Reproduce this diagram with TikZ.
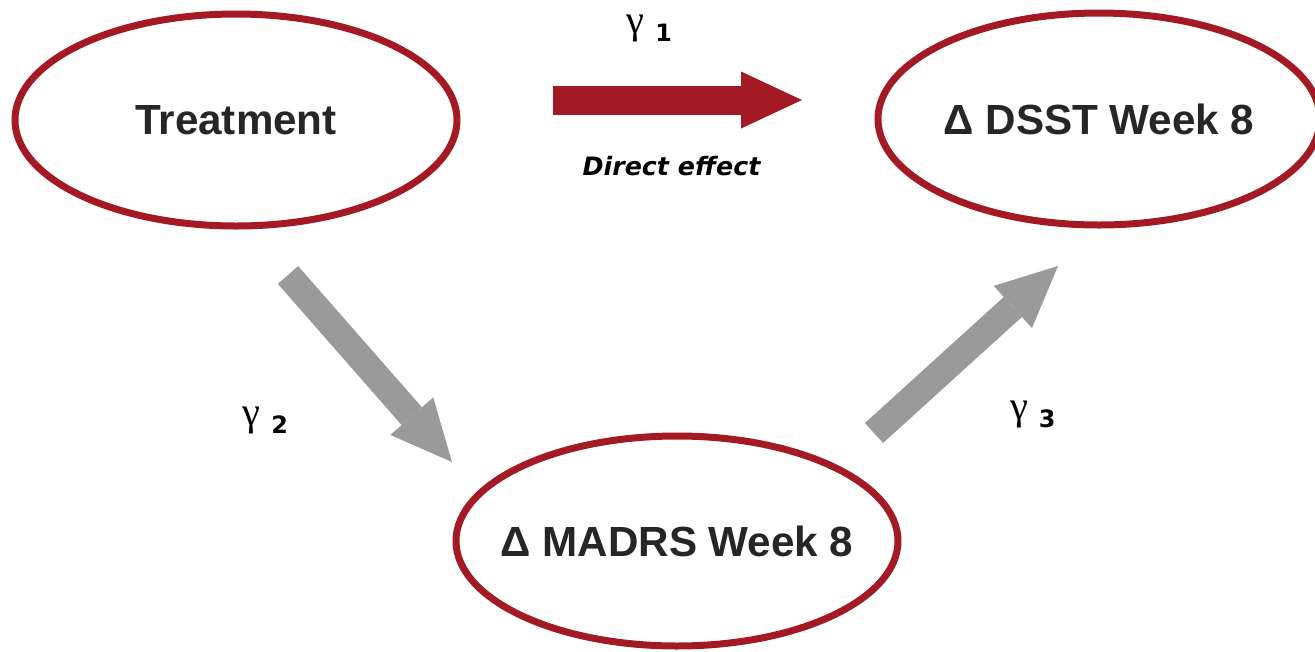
\documentclass[tikz,border=0pt]{standalone}
\usepackage{fontspec}
\setmainfont{Liberation Sans}
\newfontfamily\notefont{DejaVu Sans}
\newfontfamily\greekfont{Liberation Serif}
\usetikzlibrary{shapes.geometric,arrows.meta}
\definecolor{medred}{HTML}{A31A24}
\definecolor{medgray}{HTML}{9A9A9A}
\definecolor{medtext}{HTML}{262626}
\tikzset{
  var/.style={ellipse, draw=medred, line width=0.07cm, minimum width=4.42cm,
    minimum height=2.12cm, inner ysep=0pt, inner xsep=-0.3cm, text=medtext,
    font=\fontsize{12}{14}\selectfont\bfseries},
  fat/.style={line width=#1, -{Triangle[length=0.61cm, width=0.57cm, line width=0pt]}},
  coef/.style={inner sep=0pt, font=\fontsize{11.5}{13}\selectfont}
}
\newcommand{\coefg}[1]{{\greekfont γ}\hspace{3pt}\raisebox{-2.4pt}{\notefont\bfseries\fontsize{6.8}{8}\selectfont #1}}

\begin{document}
\begin{tikzpicture}
  \useasboundingbox (0,0) rectangle (13.15,6.51);
  % variables
  \node[var] (treat) at (2.36,5.31) {Treatment};
  \node[var] (dsst) at (10.99,5.32) {Δ DSST Week 8};
  \node[var, minimum height=2.10cm] (madrs) at (6.77,1.10) {Δ MADRS Week 8};
  % arrow ends
  \coordinate (d1) at (5.53,5.51);
  \coordinate (d2) at (8.02,5.51);
  \coordinate (a1) at (2.88,3.76);
  \coordinate (a2) at (4.52,1.89);
  \coordinate (b1) at (8.74,2.18);
  \coordinate (b2) at (10.58,3.85);
  \draw[fat=0.29cm, medred] (d1) -- (d2);
  \draw[fat=0.27cm, medgray] (a1) -- (a2);
  \draw[fat=0.27cm, medgray] (b1) -- (b2);
  % labels
  \node[coef] (g1) at (6.495,6.225) {\coefg{1}};
  \node[coef] (g2) at (2.655,2.305) {\coefg{2}};
  \node[coef] (g3) at (10.33,2.365) {\coefg{3}};
  \node[inner sep=0pt, font=\notefont\bfseries\itshape\fontsize{7.2}{9}\selectfont] (direct) at (6.715,4.845) {Direct effect};
\end{tikzpicture}
\end{document}
